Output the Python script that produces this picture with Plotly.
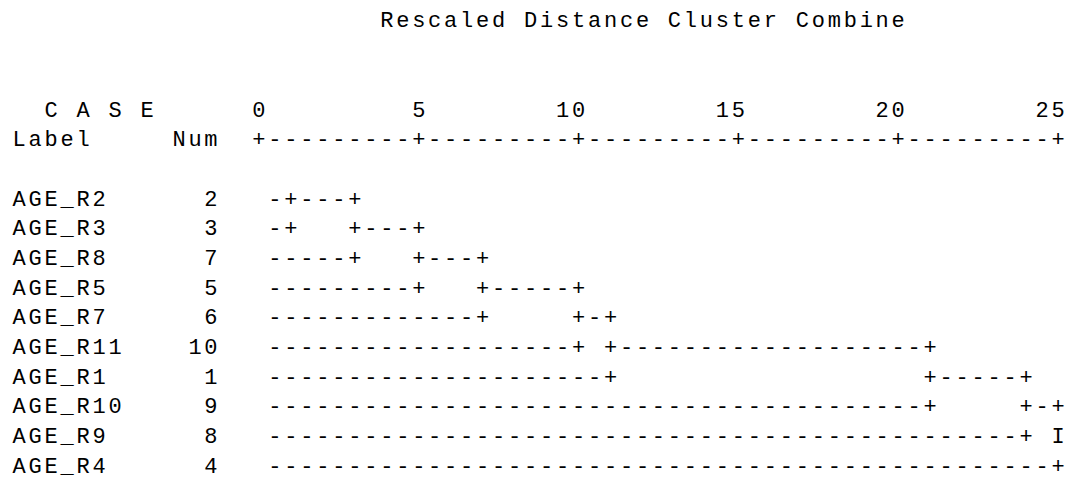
import plotly.graph_objects as go

# SPSS style text dendrogram (average linkage), rebuilt char by char on a grid
title = "Rescaled Distance Cluster Combine"
case_header = "C A S E"
label_header = "Label"
num_header = "Num"

case_labels = ["AGE_R2", "AGE_R3", "AGE_R8", "AGE_R5", "AGE_R7",
               "AGE_R11", "AGE_R1", "AGE_R10", "AGE_R9", "AGE_R4"]
case_nums = [2, 3, 7, 5, 6, 10, 1, 9, 8, 4]
# rescaled distance at which case i+1 joins the cluster above it
merge_dist = [1, 3, 5, 7, 10, 11, 21, 24, 25]
tick_values = [0, 5, 10, 15, 20, 25]

# one text column = half a distance unit
COL = 0.5
xs, ys, chars = [], [], []


def put(line, col, s):
    for i, ch in enumerate(s):
        if ch != " ":
            xs.append((col + i) * COL)
            ys.append(line)
            chars.append(ch)


put(0, 8, title)
put(3, -13, case_header)
for v in tick_values:
    s = str(v)
    put(3, 2 * v - len(s) + 1, s)
put(4, -15, label_header)
put(4, -5, num_header)
axis_row = "".join("+" if c % 10 == 0 else "-" for c in range(2 * tick_values[-1] + 1))
put(4, 0, axis_row)

# build dendrogram grid
grid = [dict() for _ in case_labels]
merge_cols = [int(round(2 * d)) for d in merge_dist]
a = 0
for k, m in enumerate(merge_cols):
    b = k + 1
    # own line of the leaf joining here
    for c in range(1, m):
        grid[b][c] = "-"
    if k == 0:
        for c in range(1, m):
            grid[0][c] = "-"
    grid[a][m] = "+"
    grid[b][m] = "+"
    for r in range(a + 1, b):
        grid[r][m] = "I"
    if k < len(merge_cols) - 1:
        out = (a + b) // 2
        grid[out][m] = "+"
        for c in range(m + 1, merge_cols[k + 1]):
            grid[out][c] = "-"
        a = out

for i, (lab, n) in enumerate(zip(case_labels, case_nums)):
    line = 6 + i
    put(line, -15, lab)
    s = str(n)
    put(line, -3 - len(s) + 1, s)
    for c, ch in grid[i].items():
        put(line, c, ch)

fig = go.Figure(go.Scatter(
    x=xs, y=ys, text=chars, mode="text",
    textposition="middle center",
    textfont=dict(family="Liberation Mono", size=22, color="black"),
    hoverinfo="skip", cliponaxis=False,
))

fig.update_layout(
    width=1070, height=488,
    margin=dict(l=0, r=0, t=0, b=0),
    paper_bgcolor="white", plot_bgcolor="white",
    showlegend=False,
)
fig.update_xaxes(visible=False, range=[-8.10, 25.375])
fig.update_yaxes(visible=False, range=[15.706, -0.741])

# drop the default page margin so the figure sits at the window corner
fig.write_html("out.html", config={"displayModeBar": False},
               post_script="document.body.style.margin='0px';")
